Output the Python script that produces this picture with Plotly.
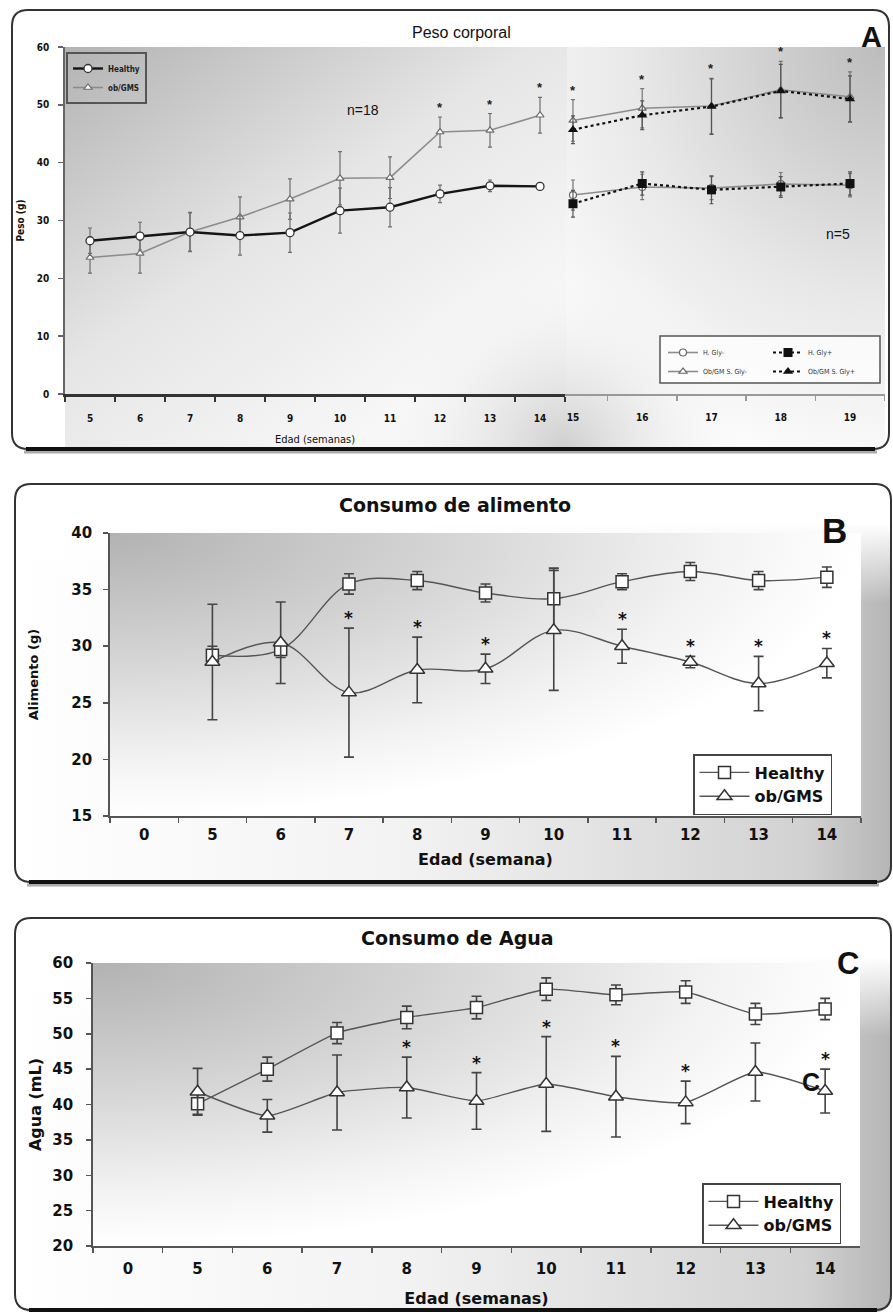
import base64
import plotly.graph_objects as go

W, H = 893, 1312

# ---------------- data : panel A (Peso corporal) ----------------
weeks_a = ["5", "6", "7", "8", "9", "10", "11", "12", "13", "14"]
healthy_a = [26.5, 27.3, 28.0, 27.4, 27.9, 31.7, 32.3, 34.6, 36.0, 35.9]
healthy_a_sd = [2.2, 2.4, 3.3, 3.4, 3.4, 3.9, 3.4, 1.5, 1.0, 0.5]
ob_a = [23.6, 24.3, 28.0, 30.6, 33.7, 37.3, 37.4, 45.3, 45.6, 48.2]
ob_a_sd = [2.7, 3.4, 3.4, 3.5, 3.5, 4.6, 3.6, 2.6, 2.9, 3.1]
sig_a = ["12", "13", "14"]

weeks_a2 = ["15", "16", "17", "18", "19"]
h_gly_minus = [34.4, 35.8, 35.6, 36.3, 36.1]
h_gly_minus_sd = [2.6, 2.2, 2.0, 2.0, 2.0]
h_gly_plus = [32.9, 36.4, 35.3, 35.8, 36.4]
h_gly_plus_sd = [2.3, 2.0, 2.4, 1.8, 2.0]
ob_gly_minus = [47.3, 49.4, 49.8, 52.6, 51.4]
ob_gly_minus_sd = [3.6, 3.4, 4.8, 4.9, 4.3]
ob_gly_plus = [45.7, 48.2, 49.7, 52.4, 51.0]
ob_gly_plus_sd = [2.4, 2.5, 4.8, 4.6, 4.0]
sig_a2 = ["15", "16", "17", "18", "19"]

# ---------------- data : panel B (Consumo de alimento) ----------------
cats_bc = ["0", "5", "6", "7", "8", "9", "10", "11", "12", "13", "14"]
weeks_bc = ["5", "6", "7", "8", "9", "10", "11", "12", "13", "14"]
healthy_b = [29.2, 29.7, 35.5, 35.8, 34.7, 34.2, 35.7, 36.6, 35.8, 36.1]
healthy_b_sd = [0.8, 0.7, 0.9, 0.8, 0.8, 2.7, 0.7, 0.8, 0.8, 0.9]
ob_b = [28.6, 30.3, 25.9, 27.9, 28.0, 31.4, 30.0, 28.6, 26.7, 28.5]
ob_b_sd = [5.1, 3.6, 5.7, 2.9, 1.3, 5.3, 1.5, 0.5, 2.4, 1.3]
sig_b = ["7", "8", "9", "11", "12", "13", "14"]

# ---------------- data : panel C (Consumo de Agua) ----------------
healthy_c = [40.1, 45.0, 50.1, 52.3, 53.7, 56.3, 55.5, 55.9, 52.8, 53.5]
healthy_c_sd = [1.5, 1.7, 1.5, 1.6, 1.6, 1.6, 1.4, 1.6, 1.5, 1.5]
ob_c = [41.8, 38.4, 41.7, 42.4, 40.5, 42.9, 41.1, 40.3, 44.6, 41.9]
ob_c_sd = [3.3, 2.3, 5.3, 4.3, 4.0, 6.7, 5.7, 3.0, 4.1, 3.1]
sig_c = ["8", "9", "10", "11", "12", "14"]


def fx(x):
    return x / W


def fy(y):
    return 1 - y / H


NARROW = "Liberation Sans Narrow, DejaVu Sans Condensed, Arial Narrow, sans-serif"
ARIAL = "Liberation Sans, Arial, sans-serif"
VERD = "DejaVu Sans, Verdana, sans-serif"

fig = go.Figure()


def err(vals, color, thick, width):
    return dict(type="data", array=vals, visible=True, color=color, thickness=thick, width=width)


# ---- panel A, left part ----
fig.add_trace(go.Scatter(
    x=weeks_a, y=ob_a, name="ob/GMS", mode="lines+markers", legend="legend", legendrank=2,
    line=dict(color="#8c8c8c", width=1.6),
    marker=dict(symbol="triangle-up", size=7, color="white", line=dict(color="#6e6e6e", width=1.2)),
    error_y=err(ob_a_sd, "#6e6e6e", 1.2, 2), xaxis="x", yaxis="y"))
fig.add_trace(go.Scatter(
    x=weeks_a, y=healthy_a, name="Healthy", mode="lines+markers", legend="legend", legendrank=1,
    line=dict(color="#151515", width=2.4),
    marker=dict(symbol="circle", size=8, color="white", line=dict(color="#333", width=1.3)),
    error_y=err(healthy_a_sd, "#6e6e6e", 1.2, 2), xaxis="x", yaxis="y"))

# ---- panel A, right part ----
fig.add_trace(go.Scatter(
    x=weeks_a2, y=h_gly_minus, name="H. Gly-", mode="lines+markers", legend="legend2",
    line=dict(color="#8c8c8c", width=1.6),
    marker=dict(symbol="circle", size=7, color="white", line=dict(color="#666", width=1.2)),
    error_y=err(h_gly_minus_sd, "#777", 1.2, 2), xaxis="x2", yaxis="y"))
fig.add_trace(go.Scatter(
    x=weeks_a2, y=ob_gly_minus, name="Ob/GM S. Gly-", mode="lines+markers", legend="legend2",
    line=dict(color="#8c8c8c", width=1.6),
    marker=dict(symbol="triangle-up", size=7, color="white", line=dict(color="#666", width=1.2)),
    error_y=err(ob_gly_minus_sd, "#777", 1.2, 2), xaxis="x2", yaxis="y"))
fig.add_trace(go.Scatter(
    x=weeks_a2, y=h_gly_plus, name="H. Gly+", mode="lines+markers", legend="legend3",
    line=dict(color="#111", width=2.2, dash="dot"),
    marker=dict(symbol="square", size=9, color="#111"),
    error_y=err(h_gly_plus_sd, "#555", 1.2, 2), xaxis="x2", yaxis="y"))
fig.add_trace(go.Scatter(
    x=weeks_a2, y=ob_gly_plus, name="Ob/GM S. Gly+", mode="lines+markers", legend="legend3",
    line=dict(color="#111", width=2.2, dash="dot"),
    marker=dict(symbol="triangle-up", size=9, color="#111"),
    error_y=err(ob_gly_plus_sd, "#555", 1.2, 2), xaxis="x2", yaxis="y"))

# ---- panel B ----
fig.add_trace(go.Scatter(
    x=weeks_bc, y=healthy_b, name="Healthy", mode="lines+markers", legend="legend4",
    line=dict(color="#555", width=1.4, shape="spline", smoothing=1.0),
    marker=dict(symbol="square", size=12, color="white", line=dict(color="#333", width=1.5)),
    error_y=err(healthy_b_sd, "#444", 1.6, 5), xaxis="x3", yaxis="y2"))
fig.add_trace(go.Scatter(
    x=weeks_bc, y=ob_b, name="ob/GMS", mode="lines+markers", legend="legend4",
    line=dict(color="#555", width=1.4, shape="spline", smoothing=1.0),
    marker=dict(symbol="triangle-up", size=13, color="white", line=dict(color="#333", width=1.5)),
    error_y=err(ob_b_sd, "#444", 1.6, 5), xaxis="x3", yaxis="y2"))

# ---- panel C ----
fig.add_trace(go.Scatter(
    x=weeks_bc, y=healthy_c, name="Healthy", mode="lines+markers", legend="legend5",
    line=dict(color="#555", width=1.4, shape="spline", smoothing=0.5),
    marker=dict(symbol="square", size=12, color="white", line=dict(color="#333", width=1.5)),
    error_y=err(healthy_c_sd, "#444", 1.6, 5), xaxis="x4", yaxis="y3"))
fig.add_trace(go.Scatter(
    x=weeks_bc, y=ob_c, name="ob/GMS", mode="lines+markers", legend="legend5",
    line=dict(color="#555", width=1.4, shape="spline", smoothing=0.5),
    marker=dict(symbol="triangle-up", size=13, color="white", line=dict(color="#333", width=1.5)),
    error_y=err(ob_c_sd, "#444", 1.6, 5), xaxis="x4", yaxis="y3"))


# ---------------- axes ----------------
def xcat(domain, cats, rng, font, standoff, linecolor, linewidth, title=None, tfont=None, tstand=0):
    d = dict(domain=domain, type="category", categoryorder="array", categoryarray=cats,
             range=rng, tickson="boundaries", ticks="outside", ticklen=5, tickwidth=1.5,
             tickcolor=linecolor, showline=True, linecolor=linecolor, linewidth=linewidth,
             showgrid=False, zeroline=False, tickfont=font, ticklabelstandoff=standoff,
             automargin=False, fixedrange=True)
    if title:
        d["title"] = dict(text=title, font=tfont, standoff=tstand)
    return d


def ylin(domain, rng, dt, font, standoff, title, tfont, tstand, linecolor="#555"):
    return dict(domain=domain, range=rng, dtick=dt, tick0=0, ticks="outside", ticklen=5, tickwidth=1.5,
                tickcolor=linecolor, showline=True, linecolor=linecolor, linewidth=1.8,
                showgrid=False, zeroline=False, tickfont=font, ticklabelstandoff=standoff,
                automargin=False, fixedrange=True,
                title=dict(text=title, font=tfont, standoff=tstand))


fA = dict(family=NARROW, size=10, color="#111", weight="bold")
fBC = dict(family=VERD, size=15, color="#111", weight="bold")
tBC = dict(family=VERD, size=16, color="#111", weight="bold")

fig.update_layout(
    xaxis=xcat([fx(65), fx(565)], weeks_a, [-0.5, 9.5], fA, 13, "#333", 2.5,
               "Edad (semanas)", dict(family=NARROW, size=11, color="#111"), 13),
    xaxis2=dict(xcat([fx(565), fx(885)], weeks_a2, [-0.115, 4.505], fA, 13, "#999", 2),
                anchor="y"),
    yaxis=ylin([fy(394), fy(47)], [0, 60], 10, fA, 7, "Peso (g)",
               dict(family=NARROW, size=10, color="#111", weight="bold"), 10, "#666"),
    xaxis3=dict(xcat([fx(110), fx(861)], cats_bc, [-0.5, 10.5], fBC, 4, "#555", 2,
                     "Edad (semana)", tBC, 11), anchor="y2"),
    yaxis2=dict(ylin([fy(816), fy(533)], [15, 40], 5, fBC, 8, "Alimento (g)",
                     dict(family=VERD, size=13, color="#111", weight="bold"), 30), anchor="x3"),
    xaxis4=dict(xcat([fx(93), fx(860)], cats_bc, [-0.5, 10.5], fBC, 8, "#555", 2,
                     "Edad (semanas)", tBC, 16), anchor="y3"),
    yaxis3=dict(ylin([fy(1246), fy(963)], [20, 60], 5, fBC, 10, "Agua (mL)",
                     dict(family=VERD, size=16, color="#111", weight="bold"), 7), anchor="x4"),
)
fig.layout.xaxis.anchor = "y"
fig.layout.yaxis.anchor = "x"

# ---------------- legends ----------------
fig.update_layout(
    showlegend=True,
    legend=dict(x=fx(66), y=fy(52), xanchor="left", yanchor="top", bgcolor="rgba(0,0,0,0)",
                bordercolor="#555", borderwidth=2, itemwidth=30, tracegroupgap=0,
                font=dict(family=NARROW, size=8, color="#222", weight="bold")),
    legend2=dict(x=fx(663), y=fy(338), xanchor="left", yanchor="top", bgcolor="rgba(0,0,0,0)",
                 borderwidth=0, itemwidth=30, tracegroupgap=0,
                 font=dict(family=NARROW, size=7, color="#333")),
    legend3=dict(x=fx(768), y=fy(338), xanchor="left", yanchor="top", bgcolor="rgba(0,0,0,0)",
                 borderwidth=0, itemwidth=30, tracegroupgap=0,
                 font=dict(family=NARROW, size=7, color="#333")),
    legend4=dict(x=fx(693), y=fy(754), xanchor="left", yanchor="top", bgcolor="white",
                 bordercolor="#444", borderwidth=1.5, itemwidth=50, tracegroupgap=0,
                 font=dict(family=VERD, size=16, color="#111", weight="bold")),
    legend5=dict(x=fx(702), y=fy(1183), xanchor="left", yanchor="top", bgcolor="white",
                 bordercolor="#444", borderwidth=1.5, itemwidth=50, tracegroupgap=0,
                 font=dict(family=VERD, size=16, color="#111", weight="bold")),
)

# ---------------- annotations ----------------
ann = []


def txt(x, y, text, font, **kw):
    d = dict(x=fx(x), y=fy(y), xref="paper", yref="paper", text=text, showarrow=False,
             xanchor="center", yanchor="middle", font=font)
    d.update(kw)
    ann.append(d)


txt(461, 32, "Peso corporal", dict(family=ARIAL, size=16, color="#111"))
txt(871, 37, "A", dict(family=ARIAL, size=29, color="#111", weight="bold"))
txt(363, 110, "n=18", dict(family=ARIAL, size=14, color="#111"))
txt(838, 234, "n=5", dict(family=ARIAL, size=14, color="#111"))
txt(455, 505, "Consumo de alimento", dict(family=VERD, size=19, color="#111", weight="bold"))
txt(834, 530, "B", dict(family=ARIAL, size=35, color="#111", weight="bold"))
txt(457, 938, "Consumo de Agua", dict(family=VERD, size=19, color="#111", weight="bold"))
txt(848, 963, "C", dict(family=ARIAL, size=31, color="#111", weight="bold"))
txt(811, 1082, "C", dict(family=ARIAL, size=25, color="#111", weight="bold"))

# significance asterisks (category axes take the category index as x)
star_a = dict(family=ARIAL, size=13, color="#222", weight="bold")
for w in sig_a:
    i = weeks_a.index(w)
    ann.append(dict(x=i, y=max(ob_a[i] + ob_a_sd[i], healthy_a[i] + healthy_a_sd[i]),
                    xref="x", yref="y", text="*", showarrow=False, yanchor="bottom", font=star_a))
for w in sig_a2:
    i = weeks_a2.index(w)
    top = max(ob_gly_minus[i] + ob_gly_minus_sd[i], ob_gly_plus[i] + ob_gly_plus_sd[i])
    ann.append(dict(x=i, y=top, xref="x2", yref="y", text="*", showarrow=False,
                    yanchor="bottom", font=star_a))
star_bc = dict(family=VERD, size=17, color="#111", weight="bold")
for w in sig_b:
    i = weeks_bc.index(w)
    ann.append(dict(x=cats_bc.index(w), y=ob_b[i] + ob_b_sd[i], xref="x3", yref="y2", text="*",
                    showarrow=False, yanchor="bottom", font=star_bc, yshift=-2))
for w in sig_c:
    i = weeks_bc.index(w)
    ann.append(dict(x=cats_bc.index(w), y=ob_c[i] + ob_c_sd[i], xref="x4", yref="y3", text="*",
                    showarrow=False, yanchor="bottom", font=star_bc, yshift=-2))


# ---------------- decorative frames & gradient backgrounds ----------------
def uri(svg):
    return "data:image/svg+xml;base64," + base64.b64encode(svg.encode()).decode()


svgA = """<svg xmlns='http://www.w3.org/2000/svg' width='877' height='439' viewBox='0 0 877 439' preserveAspectRatio='none'>
<defs>
<clipPath id='c'><rect x='0' y='0' width='877' height='439' rx='16'/></clipPath>
<linearGradient id='l' gradientUnits='userSpaceOnUse' x1='53' y1='37' x2='330' y2='439'>
<stop offset='0' stop-color='#b3b3b3'/><stop offset='0.55' stop-color='#e6e6e6'/><stop offset='1' stop-color='#f7f7f7'/></linearGradient>
<radialGradient id='r' gradientUnits='userSpaceOnUse' cx='873' cy='37' r='420'>
<stop offset='0' stop-color='#bcbcbc'/><stop offset='0.6' stop-color='#e8e8e8'/><stop offset='1' stop-color='#fbfbfb'/></radialGradient>
<radialGradient id='b' gradientUnits='userSpaceOnUse' cx='553' cy='439' r='200'>
<stop offset='0' stop-color='#c4c4c4' stop-opacity='0.8'/><stop offset='1' stop-color='#ffffff' stop-opacity='0'/></radialGradient>
</defs>
<g clip-path='url(#c)'>
<rect width='877' height='439' fill='#ffffff'/>
<rect x='53' y='37' width='502' height='402' fill='url(#l)'/>
<rect x='555' y='37' width='318' height='402' fill='url(#r)'/>
<rect x='280' y='220' width='597' height='219' fill='url(#b)'/>
</g></svg>"""


def svg_panel(w, h, px0, py0, pw, ph):
    return f"""<svg xmlns='http://www.w3.org/2000/svg' width='{w}' height='{h}' viewBox='0 0 {w} {h}' preserveAspectRatio='none'>
<defs>
<clipPath id='c'><rect x='0' y='0' width='{w}' height='{h}' rx='16'/></clipPath>
<linearGradient id='hz' x1='0' y1='0' x2='1' y2='0'>
<stop offset='0' stop-color='#ffffff'/><stop offset='0.45' stop-color='#f2f2f2'/><stop offset='0.9' stop-color='#d2d2d2'/><stop offset='1' stop-color='#b5b5b5'/></linearGradient>
<linearGradient id='vt' x1='0' y1='0' x2='0' y2='1'>
<stop offset='0' stop-color='#ffffff' stop-opacity='1'/><stop offset='0.1' stop-color='#ffffff' stop-opacity='1'/><stop offset='0.3' stop-color='#ffffff' stop-opacity='0'/></linearGradient>
<radialGradient id='p' cx='0' cy='0' r='1' fx='0' fy='0'>
<stop offset='0' stop-color='#b2b2b2'/><stop offset='0.45' stop-color='#d5d5d5'/><stop offset='0.8' stop-color='#f2f2f2'/><stop offset='1' stop-color='#ffffff'/></radialGradient>
</defs>
<g clip-path='url(#c)'>
<rect width='{w}' height='{h}' fill='url(#hz)'/>
<rect width='{w}' height='{h}' fill='url(#vt)'/>
<rect x='{px0}' y='{py0}' width='{pw}' height='{ph}' fill='url(#p)'/>
</g></svg>"""


svgB = svg_panel(877, 398, 95, 49, 751, 283)
svgC = svg_panel(877, 394, 78, 45, 767, 283)


def img(svg, x0, y0, w, h):
    return dict(source=uri(svg), xref="paper", yref="paper", x=fx(x0), y=fy(y0),
                sizex=w / W, sizey=h / H, xanchor="left", yanchor="top",
                sizing="stretch", layer="below")


images = [img(svgA, 12, 10, 877, 439), img(svgB, 15, 484, 877, 398), img(svgC, 15, 918, 877, 394)]


def rrect(x0, y0, x1, y1, r):
    def p(x, y):
        return f"{fx(x):.5f},{fy(y):.5f}"
    return (f"M {p(x0 + r, y0)} L {p(x1 - r, y0)} Q {p(x1, y0)} {p(x1, y0 + r)} "
            f"L {p(x1, y1 - r)} Q {p(x1, y1)} {p(x1 - r, y1)} L {p(x0 + r, y1)} "
            f"Q {p(x0, y1)} {p(x0, y1 - r)} L {p(x0, y0 + r)} Q {p(x0, y0)} {p(x0 + r, y0)} Z")


shapes = []
for (x0, y0, x1, y1) in [(12, 10, 889, 449), (15, 484, 891, 882), (15, 918, 891, 1310)]:
    shapes.append(dict(type="path", path=rrect(x0, y0, x1, y1, 16), xref="paper", yref="paper",
                       line=dict(color="#333", width=2), fillcolor="rgba(0,0,0,0)", layer="above"))
    shapes.append(dict(type="line", xref="paper", yref="paper", x0=fx(x0 + 12), x1=fx(x1 - 12),
                       y0=fy(y1 + 3), y1=fy(y1 + 3), line=dict(color="#aaa", width=3), layer="above"))
    shapes.append(dict(type="line", xref="paper", yref="paper", x0=fx(x0 + 14), x1=fx(x1 - 14),
                       y0=fy(y1), y1=fy(y1), line=dict(color="#111", width=4), layer="above"))
# box around the four-entry legend of panel A
shapes.append(dict(type="rect", xref="paper", yref="paper", x0=fx(660), x1=fx(880),
                   y0=fy(336), y1=fy(383), line=dict(color="#555", width=1.5),
                   fillcolor="rgba(255,255,255,0.7)", layer="below"))

fig.update_layout(
    width=W, height=H, autosize=False,
    margin=dict(l=0, r=0, t=0, b=0),
    paper_bgcolor="white", plot_bgcolor="rgba(0,0,0,0)",
    annotations=ann, shapes=shapes, images=images,
    font=dict(family=ARIAL, color="#111"),
    hovermode=False,
)

fig.write_html(
    "out.html",
    config={"displayModeBar": False, "staticPlot": True},
    post_script="document.body.style.margin='0';document.body.style.overflow='hidden';"
                "document.documentElement.style.overflow='hidden';",
)
